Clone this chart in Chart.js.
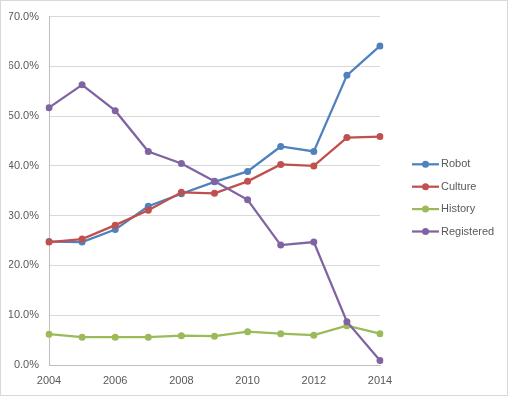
<!DOCTYPE html>
<html>
<head>
<meta charset="utf-8">
<script src="https://cdn.jsdelivr.net/npm/chart.js@4/dist/chart.umd.min.js"></script>
<style>
  html, body { margin: 0; padding: 0; background: #fff; }
  #wrap { width: 508px; height: 396px; }
</style>
</head>
<body>
<div id="wrap"><canvas id="chart"></canvas></div>
<script>
"use strict";

// Values (percent)
const years = ['2004', '2005', '2006', '2007', '2008', '2009', '2010', '2011', '2012', '2013', '2014'];
const robot = [24.8, 24.7, 27.2, 31.9, 34.4, 36.8, 38.9, 43.9, 42.9, 58.2, 64.1];
const culture = [24.7, 25.3, 28.1, 31.1, 34.7, 34.5, 36.9, 40.3, 40.0, 45.7, 45.9];
const history = [6.2, 5.6, 5.6, 5.6, 5.9, 5.8, 6.7, 6.3, 6.0, 7.9, 6.3];
const registered = [51.7, 56.3, 51.1, 42.9, 40.5, 36.9, 33.2, 24.1, 24.7, 8.7, 0.9];

const seriesNames = ['Robot', 'Culture', 'History', 'Registered'];
const seriesColors = ['#4f81bd', '#c0504d', '#9bbb59', '#8064a2'];

const FONT = '"Liberation Sans", Arial, sans-serif';
const TEXT = '#595959';

function makeDataset(i, values) {
  return {
    label: seriesNames[i],
    data: values,
    borderColor: seriesColors[i],
    backgroundColor: seriesColors[i],
    borderWidth: 2.25,
    pointRadius: 3.5,
    pointHoverRadius: 3.5,
    pointBorderWidth: 0,
    tension: 0,
    order: 4 - i   // later series drawn on top, like the original
  };
}

// White background and thin outer frame
const framePlugin = {
  id: 'frame',
  beforeDraw(chart) {
    const ctx = chart.ctx;
    ctx.save();
    ctx.fillStyle = '#fff';
    ctx.fillRect(0, 0, chart.width, chart.height);
    ctx.strokeStyle = '#d9d9d9';
    ctx.lineWidth = 1;
    ctx.strokeRect(0.5, 0.5, 507, 395);
    ctx.restore();
  }
};

// Legend on the right: short line with a dot, then the name
const sideLegend = {
  id: 'sideLegend',
  afterDraw(chart) {
    const ctx = chart.ctx;
    const x0 = 412, x1 = 439, textX = 441;
    const firstY = 164.3, step = 22.4;
    ctx.save();
    chart.data.datasets.forEach((ds, i) => {
      const y = firstY + i * step;
      ctx.strokeStyle = ds.borderColor;
      ctx.lineWidth = 2.25;
      ctx.beginPath();
      ctx.moveTo(x0, y);
      ctx.lineTo(x1, y);
      ctx.stroke();
      ctx.fillStyle = ds.borderColor;
      ctx.beginPath();
      ctx.arc((x0 + x1) / 2, y, 3.5, 0, Math.PI * 2);
      ctx.fill();
      ctx.fillStyle = TEXT;
      ctx.font = '11px ' + FONT;
      ctx.textBaseline = 'middle';
      ctx.textAlign = 'left';
      ctx.fillText(ds.label, textX, y);
    });
    ctx.restore();
  }
};

const ctx = document.getElementById('chart').getContext('2d');
new Chart(ctx, {
  type: 'line',
  data: {
    labels: years,
    datasets: [
      makeDataset(0, robot),
      makeDataset(1, culture),
      makeDataset(2, history),
      makeDataset(3, registered)
    ]
  },
  options: {
    responsive: true,
    maintainAspectRatio: false,
    animation: false,
    layout: {
      padding: { left: 9, right: 128, top: 15, bottom: 9 }
    },
    plugins: {
      legend: { display: false },
      tooltip: { enabled: false }
    },
    scales: {
      x: {
        offset: false,
        grid: { display: false, drawTicks: false },
        border: { display: true, color: '#bfbfbf', width: 1 },
        ticks: {
          autoSkip: false,
          maxRotation: 0,
          padding: 9,
          color: TEXT,
          font: { family: FONT, size: 11 },
          callback: function(value, index) {
            return index % 2 === 0 ? years[index] : '';
          }
        },
        afterFit: function(scale) { scale.height = 22; }
      },
      y: {
        min: 0,
        max: 70,
        grid: { color: '#d9d9d9', lineWidth: 1, drawTicks: false },
        border: { display: true, color: '#bfbfbf', width: 1 },
        ticks: {
          stepSize: 10,
          padding: 10,
          color: TEXT,
          font: { family: FONT, size: 11 },
          callback: function(value) { return value.toFixed(1) + '%'; }
        },
        afterFit: function(scale) { scale.width = 40; }
      }
    }
  },
  plugins: [framePlugin, sideLegend]
});
</script>
</body>
</html>
